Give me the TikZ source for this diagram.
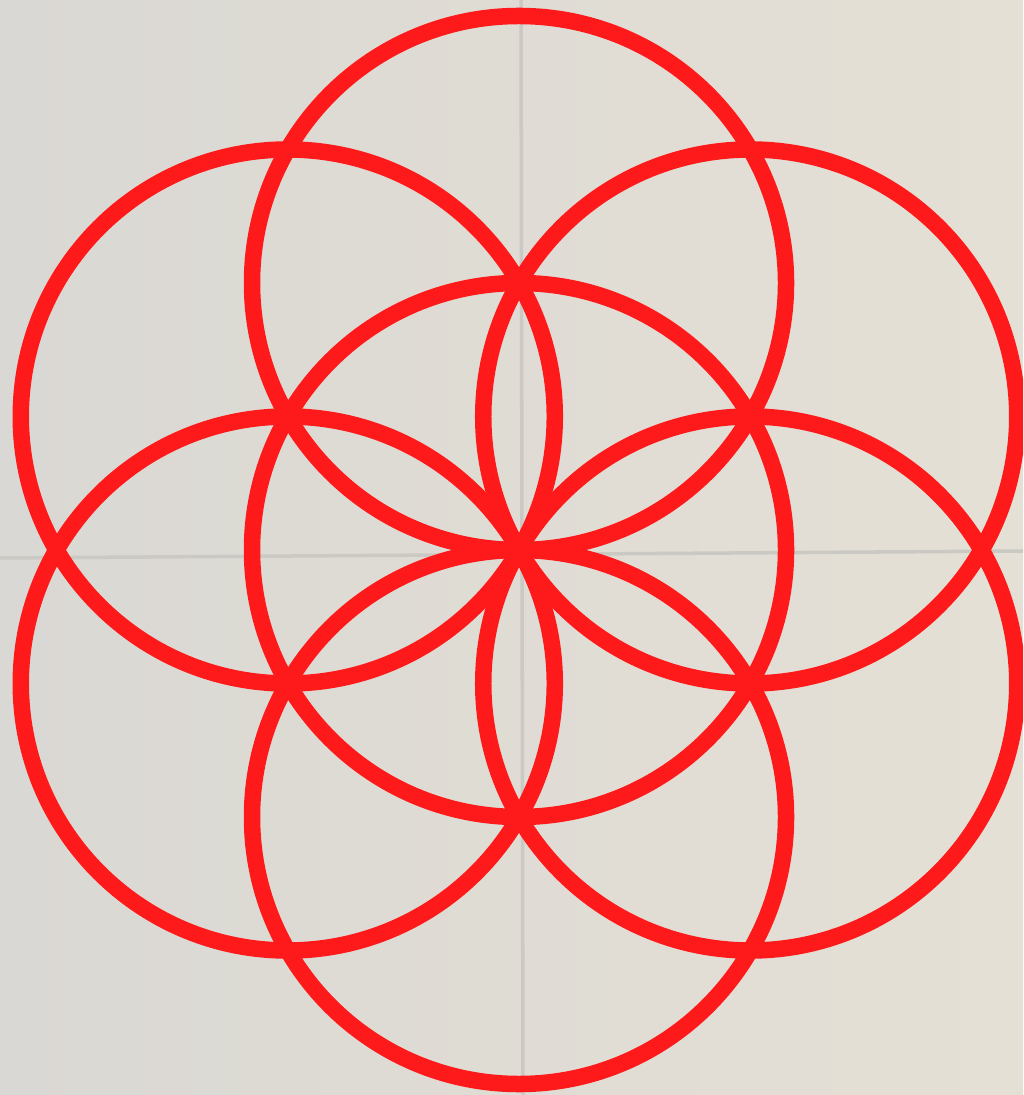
\documentclass[tikz,border=0pt]{standalone}
\usetikzlibrary{calc}
\definecolor{seedred}{RGB}{254,26,26}
\definecolor{wallgray}{RGB}{218,216,212}
\definecolor{wallbeige}{RGB}{229,224,213}
\definecolor{guidegray}{RGB}{203,201,195}

\begin{document}
\begin{tikzpicture}[x=0.01cm,y=-0.01cm,
  petal/.style={draw=seedred,line width=0.165cm},
  guide/.style={draw=guidegray,line width=1pt}]
\clip (0,0) rectangle (1023,1095);
\shade[left color=wallgray,right color=wallbeige] (0,0) rectangle (1023,1095);
% faint cross on the wall
\coordinate (top) at (521,0);
\coordinate (bot) at (523,1095);
\coordinate (lft) at (0,558);
\coordinate (rgt) at (1023,551);
\draw[guide] (top) -- (bot);
\draw[guide] (lft) -- (rgt);
% seed of life
\coordinate (c) at (519,550);
\draw[petal] (c) circle[radius=267];
\foreach \a in {30,90,...,330}
  \draw[petal] ($(c)+(\a:267)$) circle[radius=267];
\end{tikzpicture}
\end{document}
